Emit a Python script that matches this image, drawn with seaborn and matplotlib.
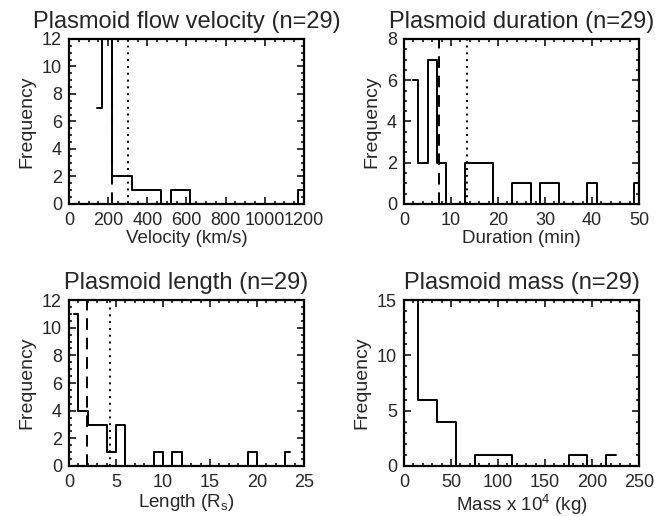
import numpy as np
import pandas as pd
import matplotlib
matplotlib.use("Agg")
import matplotlib.pyplot as plt
from matplotlib.ticker import MultipleLocator
import seaborn as sns

# histogram bin centres (IDL style, psym=10) and counts
vel_centers = np.arange(145, 1196, 50)
vel_counts = [7, 12, 2, 2, 1, 1, 1, 0, 1, 1, 0, 0, 0, 0, 0, 0, 0, 0, 0, 0, 0, 1]
vel_median, vel_mean = 220, 300

dur_centers = np.arange(2, 51, 2)
dur_counts = [6, 2, 7, 2, 0, 0, 2, 2, 2, 0, 0, 1, 1, 0, 1, 1, 0, 0, 0, 1,
              0, 0, 0, 0, 1]
dur_median, dur_mean = 7.4, 13.5

len_centers = np.arange(0.5, 24, 1.0)
len_counts = [11, 4, 3, 3, 1, 3, 0, 0, 0, 1, 0, 1, 0, 0, 0, 0, 0, 0, 0, 1,
              0, 0, 0, 1]
len_median, len_mean = 1.9, 4.35

mass_centers = np.arange(5, 226, 20)
mass_counts = [15, 6, 4, 0, 1, 1, 0, 0, 0, 1, 0, 1]

titles = ["Plasmoid flow velocity (n=29)", "Plasmoid duration (n=29)",
          "Plasmoid length (n=29)", "Plasmoid mass (n=29)"]
xlabels = ["Velocity (km/s)", "Duration (min)", r"Length (R$_\mathregular{s}$)",
           r"Mass x 10$^\mathregular{4}$ (kg)"]

sns.set_theme(style="ticks")
plt.rcParams['font.family'] = ['Liberation Sans', 'DejaVu Sans']
plt.rcParams['mathtext.fontset'] = 'custom'
plt.rcParams['mathtext.rm'] = 'Liberation Sans'


def edges_from(c):
    c = np.asarray(c, dtype=float)
    mids = (c[:-1] + c[1:]) / 2
    return [c[0]] + list(mids) + [c[-1]]


fig = plt.figure(figsize=(6.55, 5.16), dpi=100)
pos = [[0.1053, 0.6047, 0.3588, 0.3198], [0.6168, 0.6047, 0.3588, 0.3198],
       [0.1053, 0.0969, 0.3588, 0.3217], [0.6168, 0.0969, 0.3588, 0.3217]]

panels = [
    (vel_centers, vel_counts, (0, 1200), (0, 12), 200, 50, 2, 0.5, vel_median, vel_mean),
    (dur_centers, dur_counts, (0, 50), (0, 8), 10, 2, 2, 0.5, dur_median, dur_mean),
    (len_centers, len_counts, (0, 25), (0, 12), 5, 1, 2, 0.5, len_median, len_mean),
    (mass_centers, mass_counts, (0, 250), (0, 15), 50, 10, 5, 1, None, None),
]

for i, (c, n, xl, yl, xmaj, xmin, ymaj, ymin, med, mean) in enumerate(panels):
    ax = fig.add_axes(pos[i])
    df = pd.DataFrame({"value": np.asarray(c, dtype=float), "count": n})
    sns.histplot(data=df, x="value", weights="count", bins=edges_from(c),
                 element="step", fill=False, color="black", linewidth=1.4, ax=ax)
    if med is not None:
        ax.axvline(med, color="black", lw=1.4, ls=(0, (6, 4)))
        ax.axvline(mean, color="black", lw=1.4, ls=(0, (1, 2.5)))
    ax.set_xlim(*xl)
    ax.set_ylim(*yl)
    ax.xaxis.set_major_locator(MultipleLocator(xmaj))
    ax.xaxis.set_minor_locator(MultipleLocator(xmin))
    ax.yaxis.set_major_locator(MultipleLocator(ymaj))
    ax.yaxis.set_minor_locator(MultipleLocator(ymin))
    ax.tick_params(which="both", direction="in", top=True, right=True,
                   color="black", width=1.1)
    ax.tick_params(which="major", length=5, labelsize=13, pad=5)
    ax.tick_params(which="minor", length=2.5)
    ax.tick_params(axis="x", which="major", pad=5.5)
    for s in ax.spines.values():
        s.set_linewidth(1.6)
        s.set_color("black")
    ax.set_title(titles[i], fontsize=17, pad=8)
    ax.set_xlabel(xlabels[i], fontsize=13.5, labelpad=1)
    ax.set_ylabel("Frequency", fontsize=14, labelpad=5)

fig.savefig("out.png", dpi=100)
